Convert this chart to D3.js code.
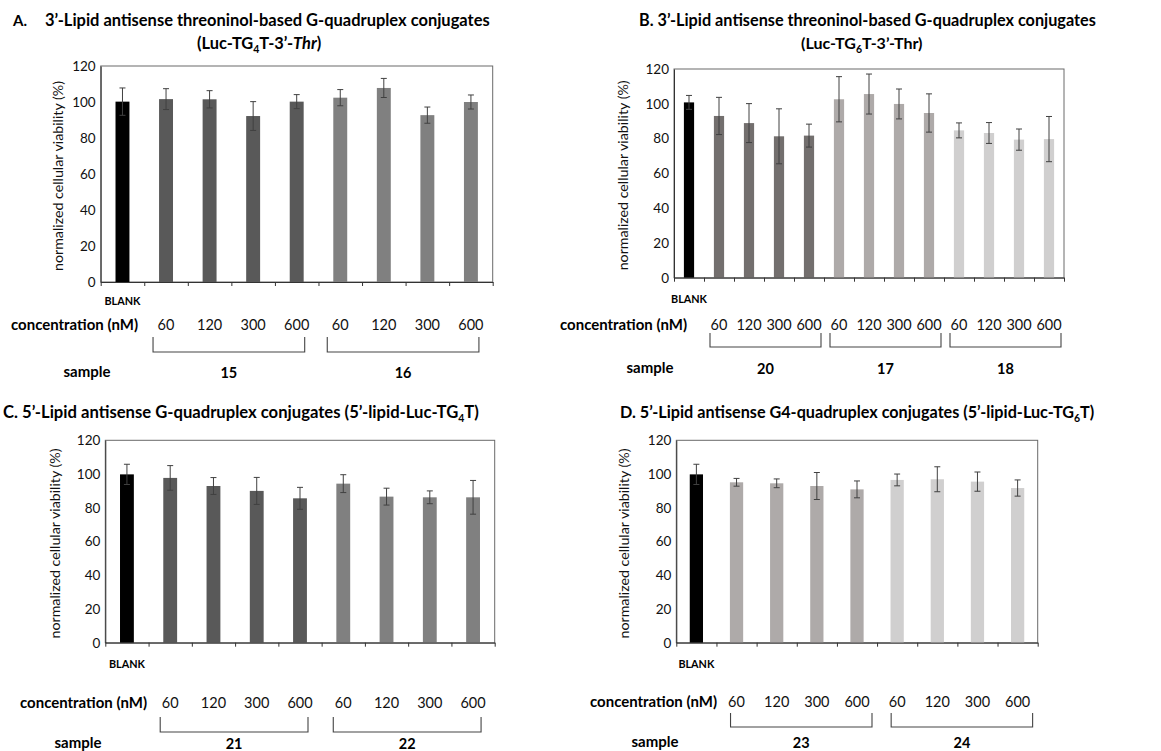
<!DOCTYPE html>
<html><head><meta charset="utf-8">
<script src="https://cdn.jsdelivr.net/npm/d3@7"></script>
<style>
body{margin:0;background:#fff;}
svg{display:block;font-family:Lato,"Open Sans",sans-serif;}
</style></head><body>
<svg id="chart" width="1161" height="751"></svg>
<script>
// ---------- data ----------
const yTicks = [0, 20, 40, 60, 80, 100, 120];
const concentrations = ["60", "120", "300", "600"];

const valuesA = [100.2, 101.6, 101.5, 92.2, 100.2, 102.4, 107.8, 92.7, 100.0];
const errorsA = [7.6, 5.8, 4.8, 8.0, 3.9, 4.5, 5.3, 4.5, 3.9];
const samplesA = ["15", "16"];

const valuesB = [100.8, 93.0, 88.9, 81.3, 81.7, 102.6, 105.6, 99.9, 94.7, 84.7, 83.2, 79.4, 79.7];
const errorsB = [4.0, 10.7, 11.2, 15.8, 6.6, 13.0, 11.5, 8.6, 11.0, 4.3, 6.0, 6.1, 13.0];
const samplesB = ["20", "17", "18"];

const valuesC = [99.8, 97.7, 92.9, 90.0, 85.6, 94.3, 86.6, 86.2, 86.2];
const errorsC = [6.0, 7.3, 5.0, 8.0, 6.5, 5.3, 5.0, 3.8, 10.0];
const samplesC = ["21", "22"];

const valuesD = [99.8, 95.1, 94.5, 92.9, 90.9, 96.5, 96.9, 95.5, 91.7];
const errorsD = [6.0, 2.3, 2.6, 8.0, 5.0, 3.5, 7.4, 5.7, 4.8];
const samplesD = ["23", "24"];

const blankLabel = "BLANK";
const yAxisTitle = "normalized cellular viability (%)";

// ---------- layout ----------
const panels = [
  {values: valuesA, errors: errorsA, samples: samplesA,
   x0: 100.7, x1: 492.7, yTop: 66, yBot: 282, barFrac: 0.32,
   colors: ["#000000", "#595959", "#808080"],
   yLabelX: 59, blankY: 305, concY: 330, concEnd: 138, brTop: 337, brBot: 352, brPad: [-13, 8],
   sampleY: 377, sampleX: 87},
  {values: valuesB, errors: errorsB, samples: samplesB,
   x0: 674, x1: 1064, yTop: 69, yBot: 277.7, barFrac: 0.34,
   colors: ["#000000", "#736f6e", "#aeaaa9", "#d0cfcf"],
   yLabelX: 624, blankY: 303, concY: 330, concEnd: 687, brTop: 333, brBot: 347, brPad: [-9, 12],
   sampleY: 373, sampleX: 650},
  {values: valuesC, errors: errorsC, samples: samplesC,
   x0: 105.3, x1: 494.7, yTop: 440.3, yBot: 642.7, barFrac: 0.32,
   colors: ["#000000", "#595959", "#808080"],
   yLabelX: 56, blankY: 668, concY: 708, concEnd: 147, brTop: 717, brBot: 732, brPad: [-10, 8],
   sampleY: 748, sampleX: 78},
  {values: valuesD, errors: errorsD, samples: samplesD,
   x0: 676.3, x1: 1037.7, yTop: 440.3, yBot: 642.7, barFrac: 0.33,
   colors: ["#000000", "#aeaaa9", "#d0cfcf"],
   yLabelX: 625, blankY: 668, concY: 707, concEnd: 717, brTop: 713, brBot: 727, brPad: [-6, 15],
   sampleY: 747, sampleX: 655}
];

const svg = d3.select("#chart");

function fitWidth(sel, w) {
  const node = sel.node();
  const fs = parseFloat(sel.attr("font-size"));
  const len = node.getComputedTextLength();
  if (len > 0) sel.attr("font-size", (fs * w / len).toFixed(2));
}

panels.forEach(p => {
  const n = p.values.length;
  const g = svg.append("g");
  const pad = 1 - p.barFrac;
  const x = d3.scaleBand().domain(d3.range(n)).range([p.x0, p.x1])
    .paddingInner(pad).paddingOuter(pad / 2);
  const cx = i => x(i) + x.bandwidth() / 2;
  const xb = d3.scaleLinear().domain([0, n]).range([p.x0, p.x1]);
  const y = d3.scaleLinear().domain([0, 120]).range([p.yBot, p.yTop]);

  // frame
  g.append("rect").attr("x", p.x0).attr("y", p.yTop)
    .attr("width", p.x1 - p.x0).attr("height", p.yBot - p.yTop)
    .attr("fill", "none").attr("stroke", "#6a6a6a").attr("stroke-width", 1);

  // y axis
  const ya = g.append("g").attr("transform", `translate(${p.x0},0)`)
    .call(d3.axisLeft(y).tickValues(yTicks).tickSize(0).tickPadding(5));
  ya.select(".domain").attr("stroke", "#333");
  ya.selectAll("text").attr("font-size", 13.5).attr("fill", "#111")
    .attr("font-family", "Lato, sans-serif");

  // bars
  const colorOf = i => i === 0 ? p.colors[0] : p.colors[1 + Math.floor((i - 1) / 4)];
  g.selectAll(".bar").data(p.values).join("rect")
    .attr("x", (d, i) => x(i)).attr("width", x.bandwidth())
    .attr("y", d => y(d)).attr("height", d => y(0) - y(d))
    .attr("fill", (d, i) => colorOf(i));

  // error bars
  const eg = g.append("g").attr("stroke", "#404040").attr("stroke-width", 1);
  p.values.forEach((v, i) => {
    const e = p.errors[i], c = cx(i);
    eg.append("line").attr("x1", c).attr("x2", c).attr("y1", y(v - e)).attr("y2", y(v + e));
    eg.append("line").attr("x1", c - 3).attr("x2", c + 3).attr("y1", y(v + e)).attr("y2", y(v + e));
    eg.append("line").attr("x1", c - 3).attr("x2", c + 3).attr("y1", y(v - e)).attr("y2", y(v - e));
  });

  // x axis
  const xa = g.append("g").attr("transform", `translate(0,${p.yBot})`)
    .call(d3.axisBottom(xb).tickValues(d3.range(n + 1)).tickFormat("").tickSize(4).tickSizeOuter(0));
  xa.select(".domain").attr("stroke", "#333");
  xa.selectAll("line").attr("stroke", "#333");

  // y axis title
  const yt = g.append("text")
    .attr("transform", `translate(${p.yLabelX + 4},${(p.yTop + p.yBot) / 2 + 2}) rotate(-90)`)
    .attr("text-anchor", "middle").attr("font-size", 12.5).attr("fill", "#111")
    .text(yAxisTitle);
  fitWidth(yt, 190);

  // BLANK
  const bl = g.append("text").attr("x", cx(0)).attr("y", p.blankY).attr("text-anchor", "middle")
    .attr("font-size", 11).attr("font-weight", "bold").text(blankLabel);
  fitWidth(bl, 36);

  // concentration row
  const cl = g.append("text").attr("x", p.concEnd).attr("y", p.concY).attr("text-anchor", "end")
    .attr("font-size", 14).attr("font-weight", "bold").text("concentration (nM)");
  fitWidth(cl, 127);
  for (let i = 1; i < n; i++) {
    g.append("text").attr("x", cx(i)).attr("y", p.concY).attr("text-anchor", "middle")
      .attr("font-size", 14.5).attr("fill", "#111").text(concentrations[(i - 1) % 4]);
  }

  // brackets + sample labels
  const sl = g.append("text").attr("x", p.sampleX).attr("y", p.sampleY).attr("text-anchor", "middle")
    .attr("font-size", 14).attr("font-weight", "bold").text("sample");
  fitWidth(sl, 47);
  p.samples.forEach((s, k) => {
    const l = cx(1 + 4 * k) + p.brPad[0], r = cx(4 + 4 * k) + p.brPad[1];
    g.append("path")
      .attr("d", `M${l},${p.brTop}V${p.brBot}H${r}V${p.brTop}`)
      .attr("fill", "none").attr("stroke", "#444").attr("stroke-width", 1.1);
    g.append("text").attr("x", (l + r) / 2).attr("y", p.sampleY + 1).attr("text-anchor", "middle")
      .attr("font-size", 14.5).attr("font-weight", "bold").text(s);
  });
});

// ---------- titles ----------
const T = svg.append("g").attr("font-weight", "bold").attr("fill", "#000");

T.append("text").attr("x", 13).attr("y", 26).attr("font-size", 15).text("A.");
const a1 = T.append("text").attr("x", 45).attr("y", 26).attr("font-size", 15)
  .text("3’-Lipid antisense threoninol-based G-quadruplex conjugates");
fitWidth(a1, 445);
const a2 = T.append("text").attr("x", 197).attr("y", 49).attr("font-size", 15);
a2.append("tspan").text("(Luc-TG");
a2.append("tspan").attr("dy", 4).attr("font-size", 10.5).text("4");
a2.append("tspan").attr("dy", -4).text("T-3’-");
a2.append("tspan").attr("font-style", "italic").text("Thr");
a2.append("tspan").text(")");
fitWidth(a2, 125);

const b1 = T.append("text").attr("x", 639).attr("y", 26).attr("font-size", 15)
  .text("B. 3’-Lipid antisense threoninol-based G-quadruplex conjugates");
fitWidth(b1, 457);
const b2 = T.append("text").attr("x", 801).attr("y", 49).attr("font-size", 15);
b2.append("tspan").text("(Luc-TG");
b2.append("tspan").attr("dy", 4).attr("font-size", 10.5).text("6");
b2.append("tspan").attr("dy", -4).text("T-3’-Thr)");
fitWidth(b2, 122);

const c1 = T.append("text").attr("x", 3).attr("y", 418).attr("font-size", 15);
c1.append("tspan").text("C. 5’-Lipid antisense G-quadruplex conjugates (5’-lipid-Luc-TG");
c1.append("tspan").attr("dy", 4).attr("font-size", 10.5).text("4");
c1.append("tspan").attr("dy", -4).text("T)");
fitWidth(c1, 477);

const d1 = T.append("text").attr("x", 620).attr("y", 418).attr("font-size", 15);
d1.append("tspan").text("D. 5’-Lipid antisense G4-quadruplex conjugates (5’-lipid-Luc-TG");
d1.append("tspan").attr("dy", 4).attr("font-size", 10.5).text("6");
d1.append("tspan").attr("dy", -4).text("T)");
fitWidth(d1, 475);
</script>
</body></html>
